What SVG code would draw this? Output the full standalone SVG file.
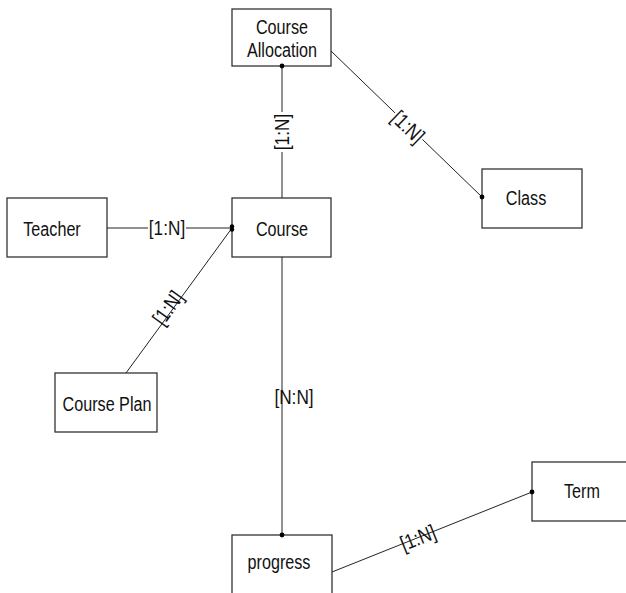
<svg xmlns="http://www.w3.org/2000/svg" width="626" height="593" viewBox="0 0 626 593">
  <style>
    .box { fill: #ffffff; stroke: #333333; stroke-width: 1.3; }
    .name { font-family: "Liberation Sans", Arial, sans-serif; font-size: 21px; fill: #111111; text-anchor: middle; }
    .edge { stroke: #222222; stroke-width: 1; fill: none; }
    .card { font-family: "Liberation Sans", Arial, sans-serif; font-size: 21px; fill: #111111; text-anchor: middle; }
    .bg { fill: #ffffff; }
    .dot { fill: #000000; }
  </style>
  <rect width="626" height="593" fill="#ffffff"/>

  <g id="course-allocation">
    <rect class="box" x="232" y="9" width="99" height="57"/>
    <text class="name" transform="translate(282 34) scale(0.77 1)" x="0" y="0">Course</text>
    <text class="name" transform="translate(282 57) scale(0.77 1)" x="0" y="0">Allocation</text>
  </g>

  <g id="teacher">
    <rect class="box" x="7" y="198" width="100" height="59"/>
    <text class="name" transform="translate(52 235.5) scale(0.77 1)" x="0" y="0">Teacher</text>
  </g>

  <g id="course">
    <rect class="box" x="232" y="198" width="99" height="59"/>
    <text class="name" transform="translate(282 235.5) scale(0.77 1)" x="0" y="0">Course</text>
  </g>

  <g id="class">
    <rect class="box" x="482" y="169" width="100" height="59"/>
    <text class="name" transform="translate(526 205) scale(0.77 1)" x="0" y="0">Class</text>
  </g>

  <g id="course-plan">
    <rect class="box" x="55" y="373" width="102" height="59"/>
    <text class="name" transform="translate(107 411) scale(0.77 1)" x="0" y="0">Course Plan</text>
  </g>

  <g id="term">
    <rect class="box" x="532" y="462" width="100" height="59"/>
    <text class="name" transform="translate(582 498) scale(0.77 1)" x="0" y="0">Term</text>
  </g>

  <g id="progress">
    <rect class="box" x="232" y="535" width="100" height="70"/>
    <text class="name" transform="translate(279 569) scale(0.77 1)" x="0" y="0">progress</text>
  </g>

  <g id="connectors">
    <!-- Course Allocation to Course -->
    <line class="edge" x1="282" y1="66" x2="282" y2="198"/>
    <rect class="bg" x="274" y="112" width="16" height="40"/>
    <text class="card" transform="translate(282 132) rotate(-90) scale(0.82 1)" x="0" y="7">[1:N]</text>

    <!-- Course Allocation to Class -->
    <line class="edge" x1="331" y1="51" x2="482" y2="197"/>
    <rect class="bg" x="-19" y="-8" width="38" height="16" transform="translate(408 127) rotate(44)"/>
    <text class="card" transform="translate(408 127) rotate(44) scale(0.82 1)" x="0" y="7">[1:N]</text>

    <!-- Teacher to Course -->
    <line class="edge" x1="107" y1="228" x2="232" y2="228"/>
    <rect class="bg" x="148" y="218" width="38" height="20"/>
    <text class="card" transform="translate(167 228) scale(0.82 1)" x="0" y="7">[1:N]</text>

    <!-- Course Plan to Course -->
    <line class="edge" x1="126" y1="373" x2="232" y2="228"/>
    <text class="card" transform="translate(168 308) rotate(-54) scale(0.82 1)" x="0" y="7">[1:N]</text>

    <!-- Course to progress -->
    <line class="edge" x1="282" y1="257" x2="282" y2="535"/>
    <text class="card" transform="translate(294 397) scale(0.82 1)" x="0" y="7">[N:N]</text>

    <!-- progress to Term -->
    <line class="edge" x1="332" y1="572" x2="532" y2="492"/>
    <text class="card" transform="translate(418 538) rotate(-21.8) scale(0.82 1)" x="0" y="7">[1:N]</text>

    <!-- end points -->
    <circle class="dot" cx="282" cy="66" r="2.4"/>
    <circle class="dot" cx="232" cy="226.5" r="2.2"/>
    <circle class="dot" cx="232" cy="229.5" r="2.2"/>
    <circle class="dot" cx="482" cy="197" r="2.4"/>
    <circle class="dot" cx="282" cy="535" r="2.4"/>
    <circle class="dot" cx="532" cy="492" r="2.4"/>
  </g>
</svg>
